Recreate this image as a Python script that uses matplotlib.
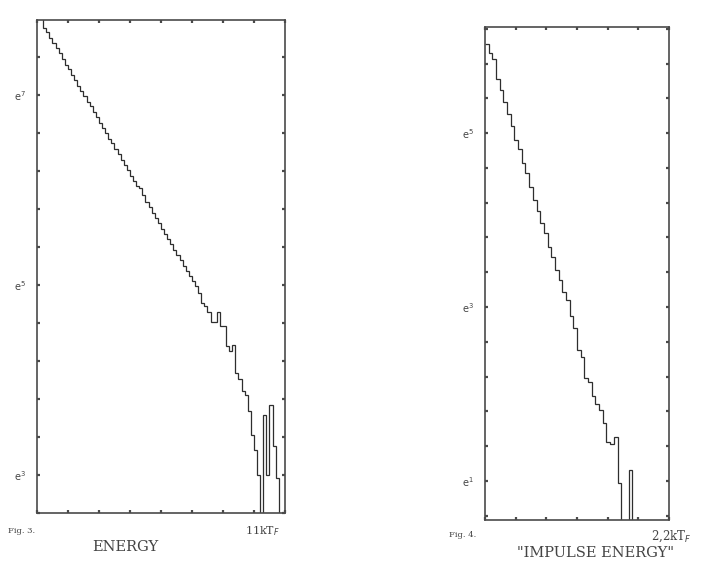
import numpy as np
import matplotlib.pyplot as plt

# Fig. 3 - energy distribution (ln of counts per bin, None = empty bin)
energy_max = 11.0
energy_ln = [7.95, 7.88, 7.71, 7.66, 7.60, 7.55, 7.49, 7.44, 7.38, 7.32,
             7.27, 7.21, 7.16, 7.10, 7.04, 6.99, 6.93, 6.88, 6.82, 6.77,
             6.71, 6.65, 6.60, 6.54, 6.49, 6.43, 6.38, 6.32, 6.26, 6.21,
             6.15, 6.10, 6.04, 6.02, 5.95, 5.87, 5.82, 5.76, 5.71, 5.65,
             5.59, 5.54, 5.48, 5.43, 5.37, 5.32, 5.26, 5.20, 5.15, 5.09,
             5.04, 4.99, 4.92, 4.81, 4.78, 4.72, 4.61, 4.61, 4.72, 4.57,
             4.57, 4.36, 4.31, 4.37, 4.07, 4.01, 3.88, 3.84, 3.67, 3.42,
             3.26, 3.00, None, 3.63, 3.00, 3.74, 3.30, 2.97, None, None]
energy_ticks = [7, 5, 3]

# Fig. 4 - impulse energy distribution
impulse_max = 2.2
impulse_ln = [6.03, 5.92, 5.85, 5.62, 5.50, 5.36, 5.22, 5.08, 4.92, 4.82,
              4.66, 4.54, 4.38, 4.23, 4.10, 3.97, 3.85, 3.69, 3.57, 3.43,
              3.31, 3.17, 3.08, 2.90, 2.76, 2.50, 2.42, 2.18, 2.14, 1.98,
              1.88, 1.82, 1.67, 1.45, 1.42, 1.50, 0.98, None, None, 1.13,
              None, None, None, None, None, None, None, None, None, None]
impulse_ticks = [5, 3, 1]

fg = '#4a4a4a'
txt = '#444444'


def panel(ax, ln_vals, xmax, ylo, yhi, ticks, nx):
    ln = np.array([v if v is not None else ylo - 3 for v in ln_vals])
    edges = np.linspace(0, xmax, len(ln) + 1)
    ax.stairs(np.exp(ln), edges, baseline=None, color='#2e2e2e', lw=0.9)
    ax.set_yscale('log', base=np.e)
    ax.set_xlim(0, xmax)
    ax.set_ylim(np.exp(ylo), np.exp(yhi))
    ax.set_yticks(np.exp(ticks))
    ax.set_yticklabels(['e$^{%d}$' % t for t in ticks])
    ax.set_yticks(np.exp(np.arange(ticks[-1] - 0.4, yhi, 0.4)), minor=True)
    ax.yaxis.set_minor_formatter(plt.NullFormatter())
    ax.set_xticks(np.linspace(0, xmax, nx + 1))
    ax.set_xticklabels([])
    ax.tick_params(which='both', direction='in', length=2.5, width=1.6,
                   color=fg, top=True, right=True, labelsize=7,
                   labelcolor=txt, pad=8)
    for s in ax.spines.values():
        s.set_color(fg)
        s.set_linewidth(1.2)


fig = plt.figure(figsize=(7.18, 5.71), dpi=100)
ax1 = fig.add_axes([0.0515, 0.1016, 0.3454, 0.8634])
ax2 = fig.add_axes([0.6755, 0.0893, 0.2563, 0.8634])

panel(ax1, energy_ln, energy_max, 2.62, 7.79, energy_ticks, 8)
panel(ax2, impulse_ln, impulse_max, 0.55, 6.22, impulse_ticks, 6)

font = dict(family='DejaVu Serif', color=txt)
fig.text(0.03, 0.07, 'Fig. 3.', fontsize=6, ha='center', va='center', **font)
fig.text(0.366, 0.07, '11kT$_F$', fontsize=8, ha='center', va='center', **font)
fig.text(0.175, 0.042, 'ENERGY', fontsize=10.5, ha='center', va='center', **font)

fig.text(0.645, 0.063, 'Fig. 4.', fontsize=6, ha='center', va='center', **font)
fig.text(0.935, 0.060, '2,2kT$_F$', fontsize=8.5, ha='center', va='center', **font)
fig.text(0.829, 0.032, '"IMPULSE ENERGY"', fontsize=10.5, ha='center',
         va='center', **font)

fig.savefig('out.png', dpi=100)
